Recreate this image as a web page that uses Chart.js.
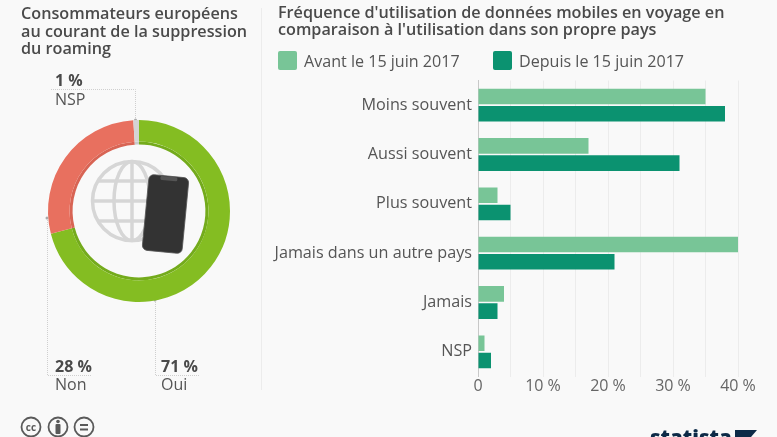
<!DOCTYPE html>
<html lang="fr"><head><meta charset="utf-8">
<script src="https://cdn.jsdelivr.net/npm/chart.js@4"></script>
<style>
html,body{margin:0;padding:0;width:777px;height:437px;overflow:hidden;background:#f9f9f9;font-family:"Open Sans",sans-serif;color:#4d4d4d}
.a{position:absolute;white-space:nowrap}
canvas{position:absolute}
.t{font-size:16.2px;font-weight:600;line-height:17.6px;color:#4a4a4a}
.l{font-size:16px;line-height:18.5px;color:#555}
.l b{font-weight:700;color:#4a4a4a}
.s{position:absolute;width:19px;height:19px;border-radius:2px;top:51px}
#all{position:absolute;left:0;top:0;width:777px;height:437px;filter:blur(.35px)}
</style></head><body><div id="all">
<div class="a t" style="left:21px;top:5px">Consommateurs européens<br>au courant de la suppression<br>du roaming</div>
<div class="a t" style="left:278px;top:3.5px">Fréquence d'utilisation de données mobiles en voyage en<br>comparaison à l'utilisation dans son propre pays</div>
<div id="legend"></div>
<svg class="a" style="left:0;top:0" width="777" height="437" viewBox="0 0 777 437">
 <line x1="261.5" y1="8" x2="261.5" y2="390" stroke="#ececec"/>
 <g fill="none" stroke="#cfcfcf" stroke-width="1" stroke-dasharray="1 1">
  <path d="M135.5 120V89.5H50"/><path d="M47.5 218V375.5H92"/><path d="M155.5 300V375.5H200"/>
 </g>
 <g fill="#aaa"><circle cx="135.5" cy="120" r="1.5"/><circle cx="47" cy="218" r="1.5"/><circle cx="155" cy="300" r="1.5"/></g>
</svg>
<canvas id="ring" style="left:27.5px;top:99.5px"></canvas>
<canvas id="bars" style="left:262px;top:70px"></canvas>
<svg class="a" style="left:0;top:0" width="777" height="437" viewBox="0 0 777 437">
 <g fill="none" stroke="#d6d6d6" stroke-width="3.5">
  <circle cx="132" cy="201" r="39.5"/><ellipse cx="132" cy="201" rx="18" ry="39.5"/>
  <path d="M132 161.5V240.5M92.5 201H171.5M98 181H166M98 221H166"/>
 </g>
 <g transform="rotate(5.5 165.5 214)">
  <rect x="145.5" y="176" width="40" height="76" rx="5" fill="#333" stroke="#555" stroke-width=".8"/>
  <rect x="157" y="176.500" width="17" height="4" rx="1.500" fill="#555"/>
 </g>
 <g fill="none" stroke="#5a5a5a" stroke-width="1.800">
  <circle cx="31" cy="427" r="9.500"/><circle cx="58" cy="427" r="9.500"/><circle cx="84" cy="427" r="9.500"/>
  <path d="M80 425H88M80 429.500H88" stroke-width="2"/>
 </g>
 <circle cx="58" cy="421.500" r="1.800" fill="#5a5a5a"/><rect x="55.500" y="424" width="5" height="10" rx="1" fill="#5a5a5a"/>
 <text x="31" y="431" text-anchor="middle" font-size="10" font-weight="700" fill="#5a5a5a" font-family="Open Sans">cc</text>
 <path d="M735 430H757L751 437H735Z" fill="#0d2a47"/>
</svg>
<div class="a l" style="left:55px;top:71px"><b>1 %</b><br>NSP</div>
<div class="a l" style="left:55px;top:356.5px"><b>28 %</b><br>Non</div>
<div class="a l" style="left:161px;top:356.5px"><b>71 %</b><br>Oui</div>
<div class="a" style="left:650px;top:423px;font-size:20.5px;font-weight:800;color:#0d2a47;line-height:28px">statista</div>
</div>
<script>
const barCategories = ["Moins souvent","Aussi souvent","Plus souvent","Jamais dans un autre pays","Jamais","NSP"];
const seriesBeforeName = "Avant le 15 juin 2017";
const seriesAfterName = "Depuis le 15 juin 2017";
const seriesBefore = [35,17,3,40,4,1];
const seriesAfter = [38,31,5,21,3,2];
const ringLabels = ["Oui","Non","NSP"];
const ringValues = [71,28,1];
const colorBefore = "#78c597";
const colorAfter = "#0b9270";
const ringColors = ["#84bd22","#e8705f","#d4d4d4"];
const ringShade = ["#74ab1c","#d86454","#c8c8c8"];
Chart.defaults.animation = false;
Chart.defaults.font.family = '"Open Sans", sans-serif';

document.getElementById("legend").innerHTML =
  `<div class="s" style="left:278px;background:${colorBefore}"></div><div class="a" style="left:304px;top:49.5px;font-size:16.1px;color:#555">${seriesBeforeName}</div>`+
  `<div class="s" style="left:493px;background:${colorAfter}"></div><div class="a" style="left:519px;top:49.5px;font-size:16.1px;color:#555">${seriesAfterName}</div>`;

const ring = document.getElementById("ring");
ring.width = 222; ring.height = 222;
new Chart(ring,{type:"doughnut",data:{labels:ringLabels,datasets:[
  {data:ringValues,backgroundColor:ringColors,borderWidth:0,weight:21.5},
  {data:ringValues,backgroundColor:ringShade,borderWidth:0,weight:3}
]},options:{responsive:false,cutout:"73%",layout:{padding:20},plugins:{legend:{display:false},tooltip:{enabled:false}}}});

const bars = document.getElementById("bars");
bars.width = 515; bars.height = 335;
new Chart(bars,{type:"bar",data:{labels:barCategories,datasets:[
  {label:seriesBeforeName,data:seriesBefore,backgroundColor:colorBefore,categoryPercentage:.7,barPercentage:.9},
  {label:seriesAfterName,data:seriesAfter,backgroundColor:colorAfter,categoryPercentage:.7,barPercentage:.9}
]},options:{indexAxis:"y",responsive:false,
  layout:{padding:{top:10.5,right:39,left:0,bottom:0}},
  plugins:{legend:{display:false},tooltip:{enabled:false}},
  scales:{
   x:{min:0,max:40,afterFit(s){s.height=28.5},
      ticks:{stepSize:5,autoSkip:false,maxRotation:0,padding:0,color:"#666",font:{size:16},
        callback:v=>v===0?"0":(v%10===0?v+" %":"")},
      grid:{color:"#ececec",drawTicks:false},border:{display:false}},
   y:{afterFit(s){s.width=216;s.paddingTop=0;s.paddingBottom=0},
      ticks:{color:"#555",padding:6,font:{size:16.2},autoSkip:false},
      grid:{display:false,drawTicks:false},border:{color:"#c8c8c8"}}
  }}});
</script>
</body></html>
